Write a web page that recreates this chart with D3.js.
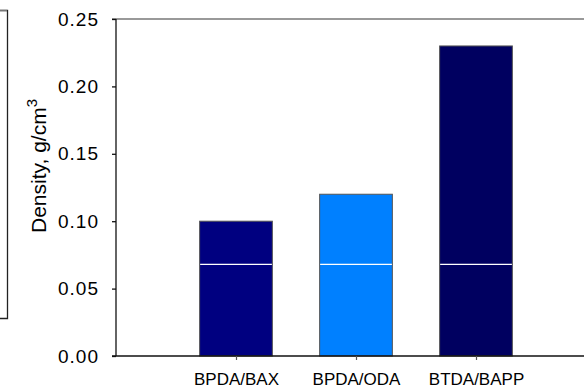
<!DOCTYPE html>
<html><head><meta charset="utf-8">
<script src="https://cdn.jsdelivr.net/npm/d3@7"></script>
<style>body{margin:0;background:#fff}svg{display:block}text{font-family:Arial,"Liberation Sans",sans-serif}</style>
</head><body><svg id="c" width="584" height="388"></svg>
<script>
const categories = ["BPDA/BAX", "BPDA/ODA", "BTDA/BAPP"];
const positions = [1, 2, 3];
const density = [0.10, 0.12, 0.23];
const markerLevel = [0.068, 0.068, 0.068];
const barColors = ["#000080", "#0080ff", "#000060"];
const yTicks = [0, 0.05, 0.10, 0.15, 0.20, 0.25];

const svg = d3.select("#c");
const x = d3.scaleLinear().domain([0, 3.9]).range([116, 584]);
const y = d3.scaleLinear().domain([0, 0.25]).range([356, 19]);
const bw = x(0.606) - x(0);

// left partial box
svg.append("path").attr("d","M0,10.5H7.5V318.5H0").attr("fill","none").attr("stroke","#222").attr("stroke-width",1.3);
svg.append("line").attr("x1",0).attr("x2",7).attr("y1",10.5).attr("y2",10.5).attr("stroke","#777").attr("stroke-width",1.3);

// top frame line
svg.append("line").attr("x1",112).attr("x2",584).attr("y1",y(0.25)).attr("y2",y(0.25)).attr("stroke","#777").attr("stroke-width",1.3);

// bars
svg.selectAll("rect.bar").data(density).join("rect")
  .attr("x",(d,i)=>x(positions[i])-bw/2).attr("width",bw)
  .attr("y",d=>y(d)).attr("height",d=>y(0)-y(d))
  .attr("fill",(d,i)=>barColors[i]).attr("stroke","#555").attr("stroke-width",1);

svg.selectAll("line.mk").data(markerLevel).join("line")
  .attr("x1",(d,i)=>x(positions[i])-bw/2+0.5).attr("x2",(d,i)=>x(positions[i])+bw/2-0.5)
  .attr("y1",d=>y(d)).attr("y2",d=>y(d)).attr("stroke","#fff").attr("stroke-width",1.2);

// y axis
const ya = svg.append("g").attr("transform","translate(116,0)")
  .call(d3.axisLeft(y).tickValues(yTicks).tickFormat(d3.format(".2f")).tickSize(4).tickPadding(13));
ya.select(".domain").attr("stroke","#111").attr("stroke-width",1.3).attr("d","M0,19V356");
ya.selectAll(".tick line").attr("stroke","#111").attr("stroke-width",1.3);
ya.selectAll(".tick text").attr("font-size",19).attr("letter-spacing","1px").attr("fill","#000")
  .attr("font-family","Arial, 'Liberation Sans', sans-serif");

// x axis
const xa = svg.append("g").attr("transform","translate(0,356)")
  .call(d3.axisBottom(x).tickValues(positions).tickFormat((d,i)=>categories[i]).tickSize(4).tickPadding(13));
xa.select(".domain").attr("stroke","#111").attr("stroke-width",1.3).attr("d","M112,0H584");
xa.selectAll(".tick line").attr("stroke","#555").attr("stroke-width",1.2);
xa.selectAll(".tick text").attr("font-size",17).attr("fill","#000")
  .attr("font-family","Arial, 'Liberation Sans', sans-serif");

// y label
const yl = svg.append("text").attr("transform","translate(46,166) rotate(-90)")
  .attr("text-anchor","middle").attr("font-size",21);
yl.append("tspan").text("Density, g/cm");
yl.append("tspan").attr("dy",-9).attr("font-size",15).text("3");
</script></body></html>
